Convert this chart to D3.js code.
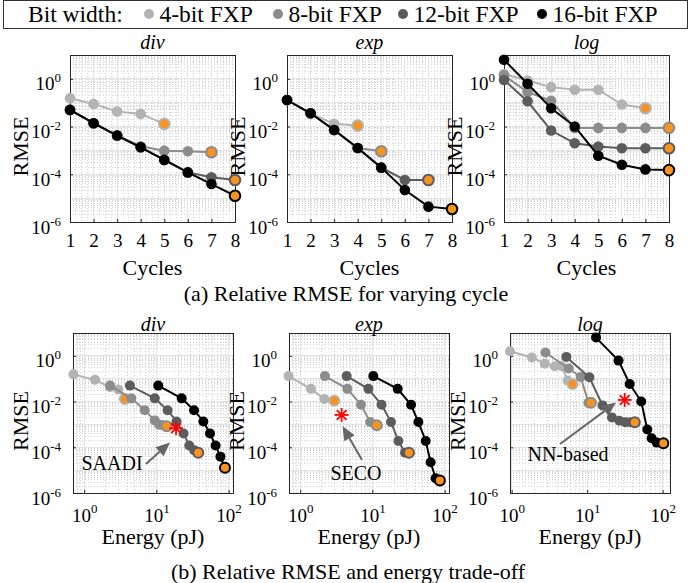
<!DOCTYPE html>
<html>
<head>
<meta charset="utf-8">
<script src="https://cdn.jsdelivr.net/npm/d3@7"></script>
<style>
  body { margin: 0; background: #fff; }
</style>
</head>
<body>
<svg id="chart" width="692" height="583"></svg>
<script>
// ----------------------------------------- Data -----------------------------------------

var cycles = [1, 2, 3, 4, 5, 6, 7, 8];
var funcNames = ["div", "exp", "log"];
var bitLabels = ["4-bit FXP", "8-bit FXP", "12-bit FXP", "16-bit FXP"];

// RMSE per cycle, one row per bit width (4, 8, 12, 16)
var divRmse = [
    [0.155, 0.089, 0.043, 0.034, 0.013],
    [0.05, 0.0138, 0.0042, 0.0015, 9.8e-4, 9.3e-4, 8.4e-4],
    [0.05, 0.0138, 0.0042, 0.00135, 4.0e-4, 1.2e-4, 7.5e-5, 5.8e-5],
    [0.05, 0.0138, 0.0042, 0.00135, 4.0e-4, 1.2e-4, 3.9e-5, 1.26e-5]
];
var expRmse = [
    [0.13, 0.036, 0.013, 0.011],
    [0.13, 0.036, 0.0072, 0.00127, 9.2e-4],
    [0.13, 0.036, 0.0072, 0.00127, 1.9e-4, 5.8e-5, 5.8e-5],
    [0.13, 0.036, 0.0072, 0.00127, 1.9e-4, 2.2e-5, 4.4e-6, 3.5e-6]
];
var logRmse = [
    [1.6, 0.85, 0.45, 0.35, 0.35, 0.084, 0.059],
    [1.4, 0.28, 0.12, 0.0088, 0.0088, 0.0088, 0.0088, 0.0088],
    [0.9, 0.115, 0.0068, 0.002, 0.00145, 0.00124, 0.00124, 0.00124],
    [6.3, 0.62, 0.059, 0.01, 6e-4, 2.5e-4, 1.6e-4, 1.5e-4]
];

// Energy (pJ) per cycle, same layout
var divEnergy = [
    [0.71, 1.41, 2.28, 2.97, 3.67],
    [2.28, 4.5, 6.9, 9.5, 11.0, 12.5, 13.9],
    [4.3, 9.5, 14.3, 19, 23.8, 28.5, 33.3, 38],
    [10.6, 22.4, 33.2, 44.7, 55.2, 66, 77, 89]
];
var expEnergy = [
    [0.69, 1.41, 2.16, 2.97],
    [2.2, 4.5, 6.95, 9.3, 11.5],
    [4.4, 8.8, 13.4, 18.1, 22.9, 28.3, 32.1],
    [10.3, 22.4, 34.3, 43.3, 54.7, 64, 75, 86]
];
var logEnergy = [
    [0.95, 1.85, 2.74, 3.72, 4.6, 5.5, 6.4],
    [2.8, 5.7, 8.2, 10.4, 10.6, 10.8, 11.0, 11.2],
    [5.3, 10.7, 16, 21.3, 26.7, 32, 37.3, 42.7],
    [13.1, 26, 36.6, 52, 62.5, 71.4, 83.4, 102]
];

// Prior designs (red stars)
var refNames = ["SAADI", "SECO", "NN-based"];
var refEnergy = [18.7, 3.75, 31.4];
var refRmse = [6.8e-4, 2.6e-3, 0.0118];

var rmseSets = [divRmse, expRmse, logRmse];
var energySets = [divEnergy, expEnergy, logEnergy];

// ----------------------------------------- Styles -----------------------------------------

var bitColors = ["#b3b3b3", "#8c8c8c", "#5c5c5c", "#000000"];
var orange = "#f7931e";

var svg = d3.select("#chart");

// ----------------------------------------- Legend -----------------------------------------

var legend = svg.append("g");
legend.append("rect")
    .attr("x", 3.5).attr("y", 0.5)
    .attr("width", 684).attr("height", 28)
    .attr("fill", "#fff").attr("stroke", "#333").attr("stroke-width", 1);
legend.append("text")
    .attr("x", 28).attr("y", 21.5)
    .style("font-size", "23.5px")
    .text("Bit width:");
var legendX = [149, 278, 403, 542];
bitLabels.forEach(function(lab, i){
    legend.append("circle")
        .attr("cx", legendX[i]).attr("cy", 14).attr("r", 5)
        .attr("fill", bitColors[i]);
    legend.append("text")
        .attr("x", legendX[i] + 10.5).attr("y", 21.5)
        .style("font-size", "23.5px")
        .text(lab);
});

// ----------------------------------------- Helpers -----------------------------------------

function powLabel(sel, supDy){
    sel.each(function(d){
        var t = d3.select(this);
        var e = Math.round(Math.log10(d));
        t.text(null);
        t.append("tspan").text("10");
        t.append("tspan").attr("dy", supDy).style("font-size", "13px").text(e);
    });
}

function gridLines(g, vals, fn, horizontal, w, h, stroke, dash){
    g.append("g").selectAll("line").data(vals).join("line")
        .attr("x1", d => horizontal ? 0 : fn(d))
        .attr("x2", d => horizontal ? w : fn(d))
        .attr("y1", d => horizontal ? fn(d) : 0)
        .attr("y2", d => horizontal ? fn(d) : h)
        .attr("stroke", stroke)
        .attr("stroke-width", 1)
        .attr("stroke-dasharray", dash);
}

var decades = d3.range(-6, 2).map(e => Math.pow(10, e));
function logMinor(lo, hi){
    var out = [];
    for (var e = lo; e <= hi; e++){
        for (var m = 2; m <= 9; m++) out.push(m * Math.pow(10, e));
    }
    return out;
}

function drawPanel(left, top, w, h, x, y, xMajor, xMinor, title, opts){
    var g = svg.append("g").attr("transform", `translate(${left},${top})`);
    g.append("rect").attr("width", w).attr("height", h).attr("fill", "#fff");

    var grid = g.append("g").attr("shape-rendering", "crispEdges");
    var yMinor = logMinor(-6, 0).filter(v => v >= 1e-6 && v <= 10);
    gridLines(grid, yMinor, y, true, w, h, "#d2d2d2", "1,2");
    gridLines(grid, xMinor, x, false, w, h, "#d2d2d2", "1,2");
    gridLines(grid, decades.concat([10]), y, true, w, h, "#e3e3e3", null);
    gridLines(grid, xMajor, x, false, w, h, "#e3e3e3", null);

    // Axes, ticks inward
    var yAxis = d3.axisLeft(y)
        .tickValues([1, 1e-2, 1e-4, 1e-6])
        .tickSize(-3)
        .tickPadding(opts.yPad);
    var ya = g.append("g").call(yAxis);
    ya.select(".domain").remove();
    ya.selectAll("text")
        .style("font-size", "19px")
        .attr("fill", "#000")
        .attr("dy", "0.58em")
        .call(powLabel, -8);

    var xAxis = d3.axisBottom(x)
        .tickValues(xMajor)
        .tickFormat(d3.format("d"))
        .tickSize(-3)
        .tickPadding(opts.xPad);
    var xa = g.append("g").attr("transform", `translate(0,${h})`).call(xAxis);
    xa.select(".domain").remove();
    xa.selectAll("text")
        .style("font-size", "19px")
        .attr("fill", "#000");
    if (opts.logX) xa.selectAll("text").call(powLabel, -9);

    g.selectAll(".tick line").attr("stroke", "#262626");

    // Frame
    g.append("rect").attr("width", w).attr("height", h)
        .attr("fill", "none").attr("stroke", "#262626").attr("stroke-width", 1)
        .attr("shape-rendering", "crispEdges");

    // Title
    g.append("text")
        .attr("x", w / 2).attr("y", opts.titleY)
        .attr("text-anchor", "middle")
        .style("font-size", "20px").style("font-style", "italic")
        .text(title);

    // Axis labels
    g.append("text")
        .attr("transform", `translate(${-opts.rmseX},${h / 2 + 8}) rotate(-90)`)
        .attr("text-anchor", "middle")
        .style("font-size", "22px")
        .text("RMSE");
    g.append("text")
        .attr("x", w / 2).attr("y", h + opts.xLabelY)
        .attr("text-anchor", "middle")
        .style("font-size", "22px")
        .text(opts.xLabel);

    return g;
}

function drawSeries(g, xs, ys, x, y, color, r){
    var pts = xs.map((v, i) => [x(v), y(ys[i])]);
    g.append("path")
        .attr("d", d3.line()(pts))
        .attr("fill", "none").attr("stroke", color).attr("stroke-width", 2);
    g.append("g").selectAll("circle").data(pts).join("circle")
        .attr("cx", d => d[0]).attr("cy", d => d[1]).attr("r", r)
        .attr("fill", (d, i) => i === pts.length - 1 ? orange : color)
        .attr("stroke", color)
        .attr("stroke-width", (d, i) => i === pts.length - 1 ? 2 : 0);
}

// ----------------------------------------- (a) RMSE vs cycles -----------------------------------------

var topLeft = [70, 287, 504];
var topW = 165, topH = 167, topY = 55;

funcNames.forEach(function(fn, k){
    var x = d3.scaleLinear().domain([1, 8]).range([0, topW]);
    var y = d3.scaleLog().domain([1e-6, 10]).range([topH, 0]);
    var xMinor = d3.range(1, 8, 0.25).filter(v => v % 1 !== 0);
    var g = drawPanel(topLeft[k], topY, topW, topH, x, y, cycles, xMinor, fn,
        {yPad: 9, xPad: 12, titleY: -6, rmseX: 42, xLabelY: 53, xLabel: "Cycles", logX: false});
    rmseSets[k].forEach(function(vals, b){
        drawSeries(g, cycles.slice(0, vals.length), vals, x, y, bitColors[b], 5.3);
    });
});

svg.append("text")
    .attr("x", 346).attr("y", 301)
    .attr("text-anchor", "middle")
    .style("font-size", "22px")
    .text("(a) Relative RMSE for varying cycle");

// ----------------------------------------- (b) RMSE vs energy -----------------------------------------

var botLeft = [73, 289, 510];
var botW = 160, botH = 160, botY = 333;
var botDomains = [[0.7, 115], [0.7, 115], [0.95, 125]];

// annotation text anchor and arrow (start, tip), in panel pixels
var annText = [[39, 137], [67, 147], [58, 128]];
var annArrow = [[[73, 131], [97, 109.5]], [[73, 127], [53.5, 93]], [[50, 111], [106, 69.5]]];

funcNames.forEach(function(fn, k){
    var x = d3.scaleLog().domain(botDomains[k]).range([0, botW]);
    var y = d3.scaleLog().domain([1e-6, 10]).range([botH, 0]);
    var xMinor = logMinor(-1, 2).filter(v => v > botDomains[k][0] && v < botDomains[k][1]);
    var g = drawPanel(botLeft[k], botY, botW, botH, x, y, [1, 10, 100], xMinor, fn,
        {yPad: 12, xPad: 15.5, titleY: -2, rmseX: 45, xLabelY: 51, xLabel: "Energy (pJ)", logX: true});
    rmseSets[k].forEach(function(vals, b){
        drawSeries(g, energySets[k][b], vals, x, y, bitColors[b], 5);
    });

    // Arrow and label for prior work
    var a = annArrow[k];
    var ang = Math.atan2(a[1][1] - a[0][1], a[1][0] - a[0][0]);
    var hl = 14, hw = 6;
    var bx = a[1][0] - hl * Math.cos(ang), by = a[1][1] - hl * Math.sin(ang);
    g.append("line")
        .attr("x1", a[0][0]).attr("y1", a[0][1]).attr("x2", bx).attr("y2", by)
        .attr("stroke", "#666").attr("stroke-width", 2);
    g.append("path")
        .attr("d", d3.line()([
            a[1],
            [bx + hw * Math.sin(ang), by - hw * Math.cos(ang)],
            [bx - hw * Math.sin(ang), by + hw * Math.cos(ang)]
        ]) + "Z")
        .attr("fill", "#666");
    g.append("text")
        .attr("x", annText[k][0]).attr("y", annText[k][1])
        .attr("text-anchor", "middle")
        .style("font-size", "20px")
        .text(refNames[k]);

    // Red asterisk
    var sx = x(refEnergy[k]), sy = y(refRmse[k]), s = 7;
    var star = g.append("g").attr("transform", `translate(${sx},${sy})`)
        .attr("stroke", "#ff0000").attr("stroke-width", 1.8);
    [[0, -s, 0, s], [-s, 0, s, 0], [-s * 0.7, -s * 0.7, s * 0.7, s * 0.7], [-s * 0.7, s * 0.7, s * 0.7, -s * 0.7]]
        .forEach(function(l){
            star.append("line").attr("x1", l[0]).attr("y1", l[1]).attr("x2", l[2]).attr("y2", l[3]);
        });
});

svg.append("text")
    .attr("x", 348).attr("y", 579)
    .attr("text-anchor", "middle")
    .style("font-size", "22px")
    .text("(b) Relative RMSE and energy trade-off");

// Serif everywhere (axis groups carry their own font attribute)
svg.selectAll("g").attr("font-family", null);
svg.selectAll("text").style("font-family", "'Liberation Serif'");
</script>
</body>
</html>
